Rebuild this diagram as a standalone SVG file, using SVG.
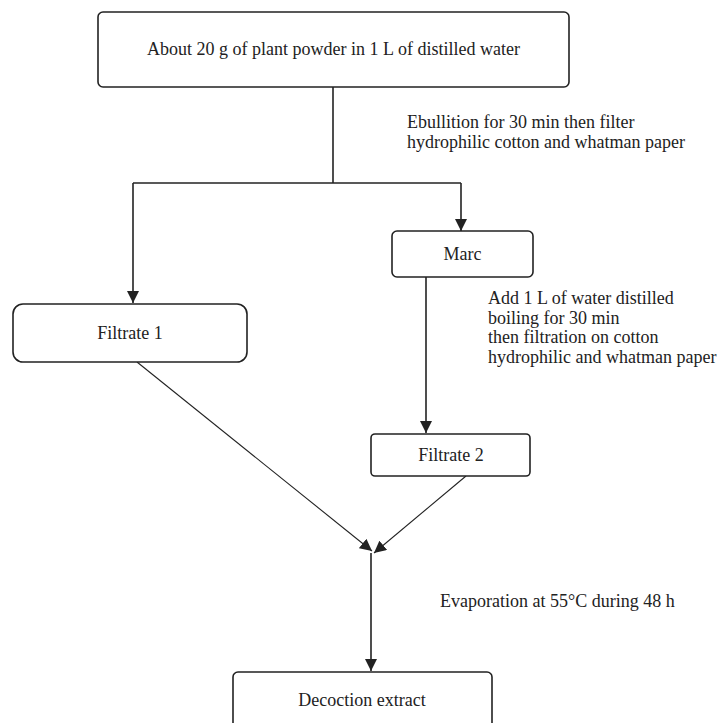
<svg xmlns="http://www.w3.org/2000/svg" width="717" height="723" viewBox="0 0 717 723">
<style>
.box{fill:#fff;stroke:#222;stroke-width:1.6}
.t{font-family:"Liberation Serif","Times New Roman",serif;font-size:18px;fill:#222}
.c{text-anchor:middle}
.ln{fill:none;stroke:#222;stroke-width:1.6}
.dg{fill:none;stroke:#222;stroke-width:1.1}
</style>
<defs>
<marker id="ah" markerUnits="userSpaceOnUse" viewBox="0 0 12 12" refX="12" refY="6" markerWidth="12" markerHeight="12" orient="auto">
<path d="M0,0 L12,6 L0,12 z" fill="#222"/>
</marker>
</defs>
<rect width="717" height="723" fill="#fff"/>
<g id="connectors">
<path class="ln" d="M333,87 V183"/>
<path class="ln" d="M133,183 H461"/>
<path class="ln" d="M133,183 V303" marker-end="url(#ah)"/>
<path class="ln" d="M461,183 V231" marker-end="url(#ah)"/>
<path class="ln" d="M426,277 V433" marker-end="url(#ah)"/>
<path class="dg" d="M137,362 L372,551" marker-end="url(#ah)"/>
<path class="dg" d="M466,476 L374,553" marker-end="url(#ah)"/>
<path class="ln" d="M371,553 V671" marker-end="url(#ah)"/>
</g>
<g id="start">
<rect class="box" x="98" y="12" width="471" height="75" rx="5"/>
<text class="t c" x="333.5" y="55">About 20 g of plant powder in 1 L of distilled water</text>
</g>
<g id="label-ebullition">
<text class="t" x="407" y="128">Ebullition for 30 min then filter</text>
<text class="t" x="407" y="148">hydrophilic cotton and whatman paper</text>
</g>
<g id="marc">
<rect class="box" x="392" y="231" width="141" height="46" rx="5"/>
<text class="t c" x="462.5" y="260">Marc</text>
</g>
<g id="filtrate1">
<rect class="box" x="13" y="304" width="234" height="58" rx="10"/>
<text class="t c" x="130" y="339">Filtrate 1</text>
</g>
<g id="label-add">
<text class="t" x="488" y="304">Add 1 L of water distilled</text>
<text class="t" x="488" y="323.5">boiling for 30 min</text>
<text class="t" x="488" y="343">then filtration on cotton</text>
<text class="t" x="488" y="362.5">hydrophilic and whatman paper</text>
</g>
<g id="filtrate2">
<rect class="box" x="371" y="434" width="159" height="42" rx="4"/>
<text class="t c" x="451" y="461">Filtrate 2</text>
</g>
<g id="label-evaporation">
<text class="t" x="440" y="607">Evaporation at 55°C during 48 h</text>
</g>
<g id="decoction">
<rect class="box" x="233" y="672" width="259" height="80" rx="5"/>
<text class="t c" x="362" y="706">Decoction extract</text>
</g>
</svg>
